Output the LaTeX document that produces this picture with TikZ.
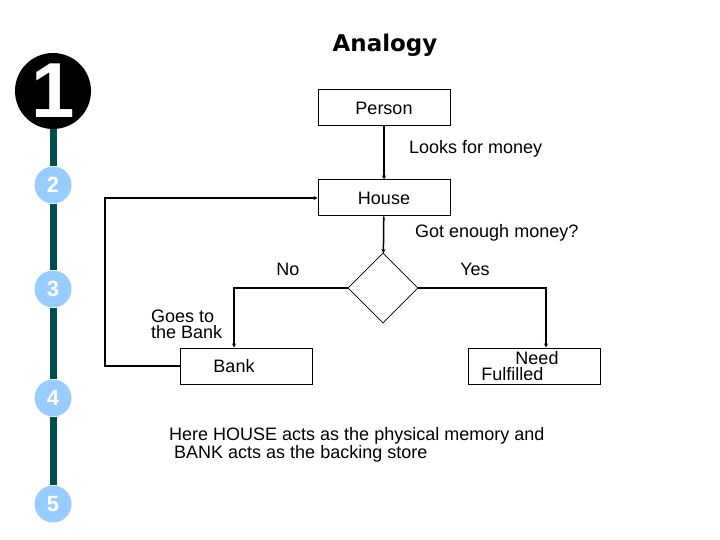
\documentclass[tikz,border=0pt]{standalone}
\usepackage{fontspec}
\setmainfont{Liberation Sans}
\newfontfamily\titlefont{DejaVu Sans}
\usetikzlibrary{shapes.geometric}
\usetikzlibrary{arrows.meta, positioning}

\definecolor{railgreen}{RGB}{0,78,78}
\definecolor{stepblue}{RGB}{153,204,255}

\begin{document}
\begin{tikzpicture}[x=1pt,y=-1pt,
  box/.style={draw, line width=1pt, minimum width=132pt, minimum height=36pt, inner sep=0pt},
  flow/.style={line width=1.5pt, -{Stealth[length=4pt,width=4pt]}},
  txt/.style={font=\fontsize{18}{16}\selectfont, inner sep=0pt},
  stepdot/.style={circle, fill=stepblue, minimum size=37pt, inner sep=0pt, text=white,
    font=\fontsize{22}{22}\selectfont\bfseries}]

\useasboundingbox (0,0) rectangle (720,540);

% Draw title
\node[font=\titlefont\bfseries\fontsize{23}{23}\selectfont] (title) at (385,45) {Analogy};

% Draw step markers
\node[circle, fill=black, minimum size=76pt, inner sep=0pt, text=white,
  font=\fontsize{78}{78}\selectfont\bfseries] (s1) at (53,91) {1};
\node[stepdot] (s2) at (53,185) {2};
\node[stepdot] (s3) at (53,289) {3};
\node[stepdot] (s4) at (53,398) {4};
\node[stepdot] (s5) at (53,504) {5};
\foreach \a/\b in {s1/s2, s2/s3, s3/s4, s4/s5}
  \draw[railgreen, line width=7pt] (\a) -- (\b);

% Draw flow boxes
\node[box, txt] (person) at (384,108) {Person};
\node[box, txt] (house) at (384,198) {House};
\node[diamond, draw, line width=0.6pt, aspect=1, minimum width=70pt, minimum height=70pt,
  inner sep=0pt] (check) at (383,288) {};
\node[box, label={[txt, xshift=-12pt]center:Bank}] (bank) at (246,366) {};
\node[box, label={[txt, xshift=-14pt, align=left]center:\hspace*{34pt}Need\\Fulfilled}] (need) at (534,366) {};

% Draw flow arrows
\draw[flow] (person) -- (house);
\draw[flow] (house) -- (check);
\draw[flow] (check.west) -| ([xshift=-12pt]bank.north);
\draw[flow] (check.east) -| ([xshift=12pt]need.north);
\coordinate (turn) at (105,366);
\draw[flow] (bank.west) -- (turn) |- (house.west);

% Draw arrow labels
\node[txt, anchor=west] (money) at (409,149) {Looks for money};
\node[txt, anchor=west] (enough) at (415,233) {Got enough money?};
\node[txt] (no) at (288,269) {No};
\node[txt] (yes) at (475,269) {Yes};
\node[txt, anchor=west, align=left] (goes) at (151,324) {Goes to\\the Bank};

% Draw note
\node[txt, anchor=west, align=left] (note) at (169,445)
  {Here HOUSE acts as the physical memory and\\\hspace*{5pt}BANK acts as the backing store};

\end{tikzpicture}
\end{document}
